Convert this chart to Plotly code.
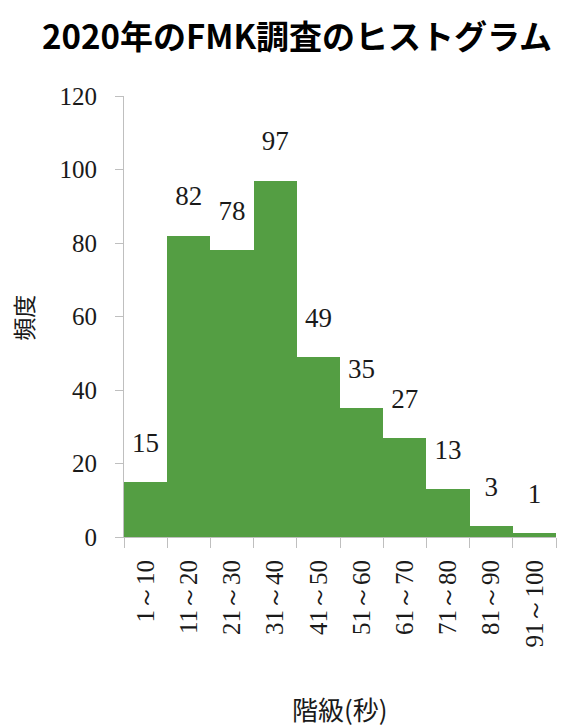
import plotly.graph_objects as go

categories = ["1～10", "11～20", "21～30", "31～40", "41～50", "51～60", "61～70", "71～80", "81～90", "91～100"]
frequencies = [15, 82, 78, 97, 49, 35, 27, 13, 3, 1]
y_ticks = [0, 20, 40, 60, 80, 100, 120]

title_text = "2020年のFMK調査のヒストグラム"
x_title = "階級(秒)"
y_title = "頻度"

serif = "Liberation Serif"
sans = "Noto Sans CJK JP"

fig = go.Figure()
fig.add_trace(go.Bar(
    x=categories, y=frequencies,
    marker=dict(color="#549E43", line=dict(width=0)),
    hoverinfo="skip",
))
fig.add_trace(go.Scatter(
    x=categories, y=frequencies,
    mode="markers+text",
    text=[str(v) for v in frequencies],
    textposition="top center",
    textfont=dict(family=serif, size=27, color="#1a1a1a"),
    marker=dict(size=36, opacity=0),
    hoverinfo="skip",
))

fig.update_layout(
    width=568, height=728,
    margin=dict(l=124, r=12, t=96, b=191),
    paper_bgcolor="white", plot_bgcolor="white",
    showlegend=False,
    bargap=0,
    title=dict(text=title_text, x=0.523, xanchor="center", y=0.948, yanchor="middle",
               font=dict(family=sans, size=33, color="black", weight="bold")),
)
fig.update_xaxes(
    type="category", tickson="boundaries", range=[-0.5, 9.5],
    ticks="outside", ticklen=10, tickcolor="#BFBFBF", tickwidth=1,
    showline=True, linecolor="#BFBFBF", linewidth=1,
    tickangle=-90, tickfont=dict(family=serif, size=25, color="#1a1a1a"),
    ticklabelstandoff=12,
    showgrid=False, zeroline=False,
)
fig.update_yaxes(
    range=[0, 120], tickvals=y_ticks,
    ticks="outside", ticklen=8, tickcolor="#BFBFBF", tickwidth=1,
    showline=True, linecolor="#BFBFBF", linewidth=1,
    tickfont=dict(family=serif, size=25, color="#1a1a1a"),
    ticklabelstandoff=13,
    showgrid=False, zeroline=False,
)
fig.add_annotation(text=x_title, xref="paper", yref="paper", x=0.5, y=-0.39,
                   xanchor="center", yanchor="middle", showarrow=False,
                   font=dict(family=sans, size=26, color="#1a1a1a"))
fig.add_annotation(text=y_title, xref="paper", yref="paper", x=-0.234, y=0.497,
                   xanchor="center", yanchor="middle", showarrow=False, textangle=-90,
                   font=dict(family=sans, size=23, color="#1a1a1a"))

fig.write_html("out.html")
